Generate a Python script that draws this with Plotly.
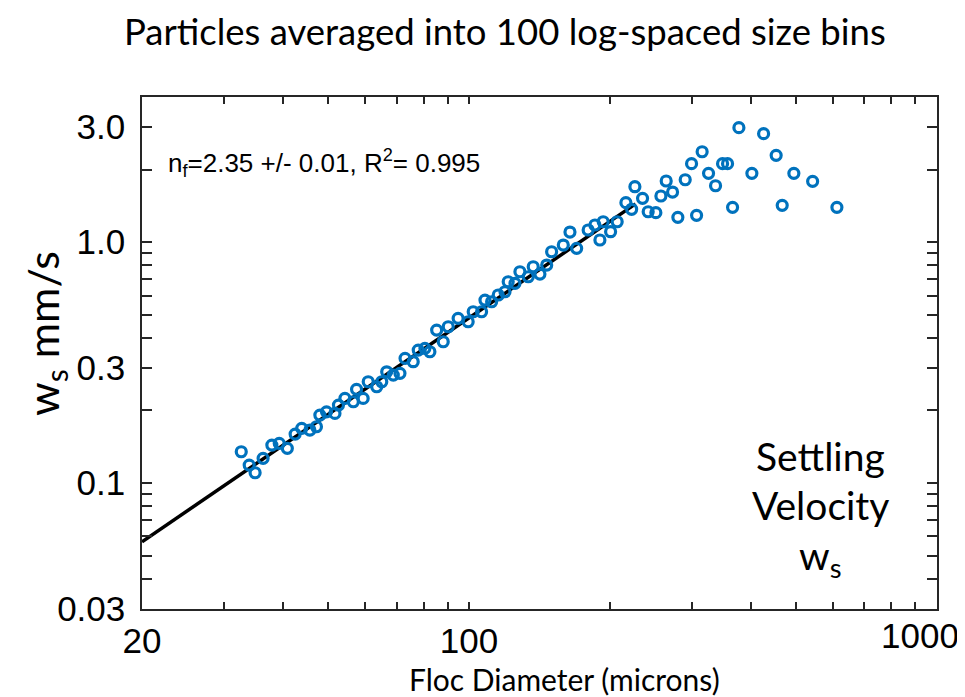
import plotly.graph_objects as go

# Floc diameter (microns) and settling velocity (mm/s)
diam = [32.6, 33.9, 34.9, 36.3, 37.9, 39.3, 40.9, 42.5, 43.9, 45.7,
        47.2, 48.0, 49.6, 51.7, 52.6, 54.3, 56.6, 57.5, 59.4, 60.9,
        63.5, 65.1, 66.7, 68.9, 71.2, 73.0, 76.0, 77.9, 80.5, 82.5,
        85.3, 88.1, 90.3, 94.8, 99.6, 102.1, 106.4, 108.2, 111.8, 115.5,
        119.4, 121.3, 125.4, 128.5, 133.9, 137.2, 141.8, 146.6, 150.2, 159.1,
        164.4, 169.9, 179.8, 185.9, 190.5, 193.6, 200.8, 207.4, 216.5, 222.7,
        226.3, 235.0, 241.6, 250.9, 257.2, 264.0, 272.4, 279.6, 289.9, 299.1,
        306.6, 315.1, 325.2, 336.6, 348.4, 357.1, 366.0, 377.6, 402.5, 426.4,
        453.6, 467.3, 494.9, 542.8, 611.7]
ws = [0.1348, 0.1187, 0.1103, 0.1266, 0.1437, 0.1461, 0.1393, 0.1596, 0.1686, 0.1659,
      0.1712, 0.1914, 0.1975, 0.1945, 0.2106, 0.2245, 0.2174, 0.2447, 0.2245, 0.2632,
      0.2509, 0.2632, 0.2895, 0.2806, 0.2852, 0.3292, 0.3187, 0.3563, 0.3621, 0.3505,
      0.4313, 0.3857, 0.4451, 0.4825, 0.4670, 0.5137, 0.5137, 0.5745, 0.5653, 0.6029,
      0.6221, 0.6845, 0.6740, 0.7530, 0.7178, 0.7900, 0.7367, 0.8029, 0.9118, 0.9720,
      1.1007, 0.9419, 1.122, 1.177, 1.020, 1.214, 1.104, 1.214, 1.457, 1.368,
      1.697, 1.519, 1.336, 1.324, 1.553, 1.792, 1.613, 1.267, 1.814, 2.115,
      1.291, 2.371, 1.929, 1.713, 2.115, 2.115, 1.394, 2.983, 1.929, 2.817,
      2.291, 1.420, 1.929, 1.787, 1.394]

# Power-law fit line endpoints
fit_x = [20, 227]
fit_y = [0.057, 1.44]

# Axis ticks (the "1000" label is drawn slightly inset, as in the original)
x_ticks = [20, 30, 40, 50, 60, 70, 80, 90, 100, 200, 300, 400, 500, 600, 700, 800, 900, 1000]
x_labels = ["20", "", "", "", "", "", "", "", "100", "", "", "", "", "", "", "", "", ""]
x_end_label = "1000"
y_ticks = [0.03, 0.04, 0.05, 0.06, 0.07, 0.08, 0.09, 0.1, 0.2, 0.3, 0.4, 0.5, 0.6, 0.7, 0.8, 0.9, 1, 2, 3]
y_labels = ["0.03", "", "", "", "", "", "", "0.1", "", "0.3", "", "", "", "", "", "", "1.0", "", "3.0"]

BLUE = "#0072BD"
AX = "#262626"
CAL = "Lato, 'Open Sans', sans-serif"
ARIAL = "'Liberation Sans', Arial, sans-serif"

fig = go.Figure()
fig.add_trace(go.Scatter(x=fit_x, y=fit_y, mode="lines",
                         line=dict(color="black", width=3.5), showlegend=False))
fig.add_trace(go.Scatter(x=diam, y=ws, mode="markers",
                         marker=dict(symbol="circle-open", size=10, color=BLUE,
                                     line=dict(color=BLUE, width=3.2)),
                         showlegend=False))

fig.update_xaxes(type="log", range=[1.30103, 3.0005], tickmode="array",
                 tickvals=x_ticks, ticktext=x_labels, ticks="inside", ticklen=7,
                 tickwidth=1.5, tickcolor=AX, showline=True, linecolor=AX, linewidth=1.5,
                 mirror="ticks", showgrid=False, zeroline=False,
                 tickfont=dict(family=ARIAL, size=35, color="black"),
                 ticklabelstandoff=0, ticklabeloverflow="allow")
fig.update_yaxes(type="log", range=[-1.52288, 0.60206], tickmode="array",
                 tickvals=y_ticks, ticktext=y_labels, ticks="inside", ticklen=10,
                 tickwidth=1.5, tickcolor=AX, showline=True, linecolor=AX, linewidth=1.5,
                 mirror="ticks", showgrid=False, zeroline=False,
                 tickfont=dict(family=ARIAL, size=35, color="black"),
                 ticklabelstandoff=8)

annotations = [
    dict(text="Particles averaged into 100 log-spaced size bins", x=0.457, y=1.128,
         xref="paper", yref="paper", showarrow=False, xanchor="center", yanchor="middle",
         font=dict(family=CAL, size=36.5, color="black")),
    dict(text=x_end_label, x=0.979, y=-0.052,
         xref="paper", yref="paper", showarrow=False, xanchor="center", yanchor="middle",
         font=dict(family=ARIAL, size=35, color="black")),
    dict(text="Floc Diameter (microns)", x=0.532, y=-0.137,
         xref="paper", yref="paper", showarrow=False, xanchor="center", yanchor="middle",
         font=dict(family=CAL, size=30, color="black")),
    dict(text="w<sub>s</sub> mm/s", x=-0.122, y=0.537, textangle=-90,
         xref="paper", yref="paper", showarrow=False, xanchor="center", yanchor="middle",
         font=dict(family=CAL, size=43, color="black")),
    dict(text="n<sub>f</sub>=2.35 +/- 0.01, R<sup>2</sup>= 0.995", x=0.030, y=0.871,
         xref="paper", yref="paper", showarrow=False, xanchor="left", yanchor="middle",
         font=dict(family=ARIAL, size=26, color="black")),
    dict(text="Settling", x=0.853, y=0.299,
         xref="paper", yref="paper", showarrow=False, xanchor="center", yanchor="middle",
         font=dict(family=CAL, size=39, color="black")),
    dict(text="Velocity", x=0.853, y=0.203,
         xref="paper", yref="paper", showarrow=False, xanchor="center", yanchor="middle",
         font=dict(family=CAL, size=39, color="black")),
    dict(text="w<sub>s</sub>", x=0.853, y=0.100,
         xref="paper", yref="paper", showarrow=False, xanchor="center", yanchor="middle",
         font=dict(family=CAL, size=39, color="black")),
]

fig.update_layout(width=965, height=697, margin=dict(l=134, r=36, t=89, b=96),
                  paper_bgcolor="white", plot_bgcolor="white",
                  annotations=annotations, showlegend=False)

fig.write_html("out.html")
